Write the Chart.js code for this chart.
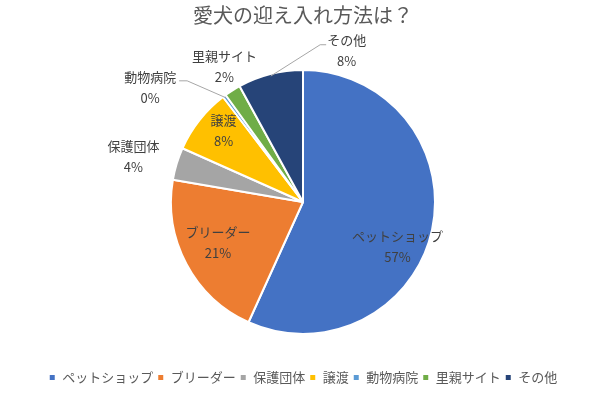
<!DOCTYPE html>
<html>
<head>
<meta charset="utf-8">
<title>愛犬の迎え入れ方法は？</title>
<script src="https://cdn.jsdelivr.net/npm/chart.js"></script>
<style>
body { margin: 0; background: #fff; }
#wrap { width: 600px; height: 394px; }
</style>
</head>
<body>
<div id="wrap"><canvas id="myChart"></canvas></div>
<script>
const categories = ['ペットショップ', 'ブリーダー', '保護団体', '譲渡', '動物病院', '里親サイト', 'その他'];
const values = [57, 21, 4, 8, 0.4, 2, 8];
const colors = ['#4472C4', '#ED7D31', '#A5A5A5', '#FFC000', '#5B9BD5', '#70AD47', '#264478'];

// label placement: [angle from top (deg, clockwise), distance as share of radius]
const labelPlace = [[115, 0.79], [245, 0.71], [285, 1.33], [312, 0.81], [307, 1.45], [330, 1.19], [16, 1.2]];
const leaders = [false, false, false, false, true, false, true];

const FONT = '"Noto Sans CJK JP", "Noto Sans", sans-serif';

// 값 라벨 그리기
const sliceLabels = {
    id: 'sliceLabels',
    afterDatasetsDraw(chart) {
        const c = chart.ctx;
        const meta = chart.getDatasetMeta(0);
        const total = values.reduce((a, b) => a + b, 0);
        c.save();
        c.font = '13px ' + FONT;
        c.fillStyle = '#404040';
        c.textAlign = 'center';
        c.textBaseline = 'middle';
        meta.data.forEach((arc, i) => {
            const p = arc.getProps(['x', 'y', 'startAngle', 'endAngle', 'outerRadius'], true);
            const a = (labelPlace[i][0] - 90) * Math.PI / 180;
            const lx = p.x + Math.cos(a) * p.outerRadius * labelPlace[i][1];
            const ly = p.y + Math.sin(a) * p.outerRadius * labelPlace[i][1];
            const pct = Math.round(values[i] / total * 100) + '%';
            c.fillText(categories[i], lx, ly - 10);
            c.fillText(pct, lx, ly + 11);
            if (leaders[i]) {
                const mid = (p.startAngle + p.endAngle) / 2;
                const ex = p.x + Math.cos(mid) * (p.outerRadius - 2);
                const ey = p.y + Math.sin(mid) * (p.outerRadius - 2);
                const w = c.measureText(categories[i]).width;
                c.strokeStyle = '#A6A6A6';
                c.lineWidth = 1;
                c.beginPath();
                if (lx < ex) {
                    const sx = lx + w / 2 + 3;
                    c.moveTo(sx, ly - 6);
                    c.lineTo(sx + 8, ly - 6);
                } else {
                    const sx = lx - w / 2 - 1;
                    c.moveTo(sx, ly - 5);
                    c.lineTo(sx - 6, ly - 5);
                }
                c.lineTo(ex, ey);
                c.stroke();
            }
        });
        c.restore();
    }
};

const ctx = document.getElementById('myChart').getContext('2d');
new Chart(ctx, {
    type: 'pie',
    data: {
        labels: categories,
        datasets: [{
            data: values,
            backgroundColor: colors,
            borderColor: '#ffffff',
            borderWidth: 2
        }]
    },
    options: {
        responsive: true,
        maintainAspectRatio: false,
        animation: false,
        layout: { padding: { left: 6, right: 0, top: 0, bottom: 0 } },
        plugins: {
            title: {
                display: true,
                text: '愛犬の迎え入れ方法は？',
                color: '#595959',
                font: { family: FONT, size: 20, weight: 'normal' },
                padding: { top: 3, bottom: 42 }
            },
            legend: {
                position: 'bottom',
                // empty title only used as a spacer above the legend row
                title: { display: true, text: '', font: { size: 10 }, padding: { top: 20, bottom: 0 } },
                labels: {
                    color: '#595959',
                    font: { family: FONT, size: 13 },
                    boxWidth: 7,
                    boxHeight: 7,
                    padding: 4
                }
            },
            tooltip: { enabled: false }
        }
    },
    plugins: [sliceLabels]
});
</script>
</body>
</html>
